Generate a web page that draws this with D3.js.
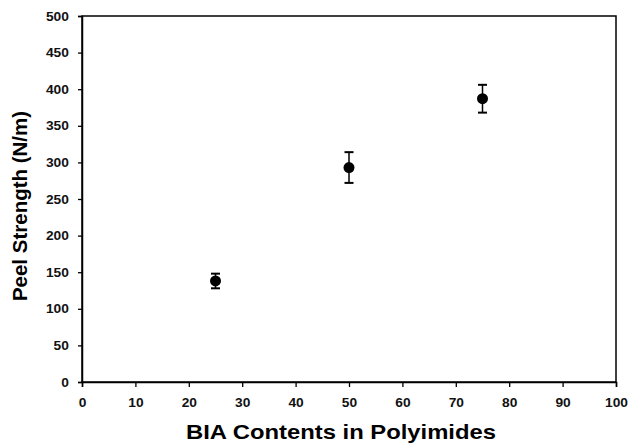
<!DOCTYPE html>
<html>
<head>
<meta charset="utf-8">
<script src="https://cdn.jsdelivr.net/npm/d3@7"></script>
<style>
  body { margin: 0; background: #fff; }
  text { font-family: "Liberation Sans", Arial, sans-serif; }
</style>
</head>
<body>
<svg id="chart" width="631" height="445"></svg>
<script>
// BIA content (%) vs peel strength with error bars
var biaContent = [25, 50, 75];
var peelStrength = [138, 293, 387];
var peelError = [10, 21, 19];
var xTicks = [0, 10, 20, 30, 40, 50, 60, 70, 80, 90, 100];
var yTicks = [0, 50, 100, 150, 200, 250, 300, 350, 400, 450, 500];

var svg = d3.select("#chart");
var margin = {left: 82, right: 15, top: 16, bottom: 63};
var width = 631 - margin.left - margin.right;
var height = 445 - margin.top - margin.bottom;

var x = d3.scaleLinear().domain([0, 100]).range([0, width]);
var y = d3.scaleLinear().domain([0, 500]).range([height, 0]);

var g = svg.append("g")
    .attr("transform", "translate(" + margin.left + "," + margin.top + ")");

// frame
g.append("rect")
    .attr("width", width)
    .attr("height", height)
    .attr("fill", "none")
    .attr("stroke", "#000")
    .attr("stroke-width", 1.5);

var xAxis = g.append("g")
    .attr("transform", "translate(0," + height + ")")
    .call(d3.axisBottom(x).tickValues(xTicks).tickSize(5).tickPadding(11));
var yAxis = g.append("g")
    .call(d3.axisLeft(y).tickValues(yTicks).tickSize(4).tickPadding(8));

[xAxis, yAxis].forEach(function(ax) {
    ax.select(".domain").attr("stroke-width", 1.5);
    ax.selectAll(".tick line").attr("stroke-width", 1.3);
    // the scan is a little wider than tall, so stretch the labels sideways
    ax.selectAll(".tick text")
        .attr("font-size", "12.5px")
        .attr("font-weight", "bold")
        .attr("fill", "#111")
        .attr("transform", "scale(1.1,1)");
});

// error bars
var pts = biaContent.map(function(d, i) {
    return {x: d, y: peelStrength[i], e: peelError[i]};
});
var bars = g.selectAll(".err").data(pts).enter().append("g").attr("class", "err");
bars.append("line")
    .attr("x1", function(d) { return x(d.x); })
    .attr("x2", function(d) { return x(d.x); })
    .attr("y1", function(d) { return y(d.y + d.e); })
    .attr("y2", function(d) { return y(d.y - d.e); })
    .attr("stroke", "#000").attr("stroke-width", 1.5);
[1, -1].forEach(function(s) {
    bars.append("line")
        .attr("x1", function(d) { return x(d.x) - 4.5; })
        .attr("x2", function(d) { return x(d.x) + 4.5; })
        .attr("y1", function(d) { return y(d.y + s * d.e); })
        .attr("y2", function(d) { return y(d.y + s * d.e); })
        .attr("stroke", "#000").attr("stroke-width", 2);
});

g.selectAll(".pt").data(pts).enter().append("circle")
    .attr("class", "pt")
    .attr("cx", function(d) { return x(d.x); })
    .attr("cy", function(d) { return y(d.y); })
    .attr("r", 5.5)
    .attr("fill", "#000");

// titles
svg.append("text")
    .attr("x", 186)
    .attr("y", 439)
    .attr("font-size", "21px")
    .attr("font-weight", "bold")
    .attr("textLength", 310)
    .attr("lengthAdjust", "spacingAndGlyphs")
    .text("BIA Contents in Polyimides");

svg.append("text")
    .attr("transform", "translate(27,206) rotate(-90)")
    .attr("text-anchor", "middle")
    .attr("font-size", "20.5px")
    .attr("font-weight", "bold")
    .text("Peel Strength (N/m)");
</script>
</body>
</html>
